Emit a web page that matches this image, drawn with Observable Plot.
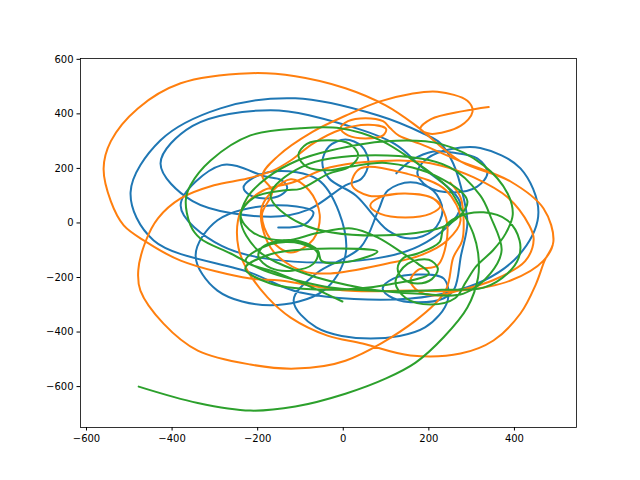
<!DOCTYPE html>
<html><head><meta charset="utf-8">
<script src="https://cdn.jsdelivr.net/npm/d3@7"></script>
<script src="https://cdn.jsdelivr.net/npm/@observablehq/plot@0.6"></script>
<style>html,body{margin:0;padding:0;background:#fff;}</style>
</head><body><div id="chart"></div>
<script>
const xTicks = [-600,-400,-200,0,200,400];
const yTicks = [-600,-400,-200,0,200,400,600];

const blue = [[124,182],[160,230],[210,262],
[255,258],[313,237],[337,185],[313,133],[255,112],[197,133],[173,185],[197,237],[250,270],
[320,275],[414,200],[456,40],[420,-100],[330,-210],[157,-277],[-100,-255],[-217,-182],[-443,-64],[-497,112],[-427,303],[-287,420],[-112,457],[82,394],[187,328],[227,292],[257,218],[281,93],[290,-2],[275,-120],
[260,-240],[235,-276],[176,-291],[117,-276],[92,-240],[117,-204],[176,-189],[235,-204],
[244,-284],[191,-383],[64,-424],[-63,-383],[-116,-284],[-63,-185],
[40,-90],[82,46],[104,119],[157,149],[210,119],[232,46],[210,-27],[157,-57],[104,-27],
[30,100],[-33,163],[-49,222],[-33,281],[5,306],[43,281],[59,222],[43,163],[5,138],
[-80,50],[-170,23],[-352,80],[-427,218],[-352,356],[-170,413],[12,356],
[120,290],[178,212],[274,64],[178,-84],[-53,-145],[-284,-84],[-380,64],[-284,212],
[-182,170],[-146,158],[-131,130],[-146,102],[-182,90],[-218,102],[-233,130],[-218,158],[-160,190],[-60,160],[-10,40],
[5,-119],[-46,-248],[-170,-302],[-294,-248],[-345,-119],[-294,10],[-170,64],[-70,40],[-90,-5],[-152,-17]];

const orange = [[340,425],[280,410],[205,381],[180,345],[203,327],[274,356],[302,407],[290,448],[220,481],[157,473],[82,444],[5,393],[-72,334],[-152,246],[-189,173],[-166,116],
[-190,30],[-170,-60],[-123,-108],[-70,-60],[-55,30],[-80,120],[-123,160],
[-190,60],[-170,-90],[-100,-174],[-30,-185],[103,-149],[180,-119],[243,-64],[274,9],[240,120],[150,180],[40,200],[20,140],[60,100],
[145,108],[203,95],[227,64],[203,33],[145,20],[87,33],[63,64],[87,95],[145,108],[210,90],[240,20],[240,-80],[220,-156],
[175,-172],[157,-211],[175,-250],[220,-266],[265,-250],[350,-210],[425,-140],[445,-60],[435,-10],
[384,94],[305,167],[227,211],[133,229],[-30,204],[-117,149],[-187,119],[-234,57],[-246,9],[-245,-90],[-224,-174],[-177,-273],[-123,-347],[-37,-413],[45,-442],[157,-486],[274,-479],[351,-431],[414,-332],[450,-225],
[470,-140],[491,-68],[468,53],[391,152],[274,226],[169,358],[99,431],[5,494],[-112,538],[-217,549],[-380,512],[-480,420],[-543,300],[-560,200],[-543,79],[-513,-9],[-462,-68],[-380,-138],[-217,-204],[-147,-211],[5,-248],[157,-248],[274,-248],[391,-211],[468,-138],[491,-68],[468,53],[391,152],[274,226],[180,290],[130,320],
[110,347],[93,373],[52,384],[11,373],[-6,347],[11,321],[52,310],[93,321],[100,345],[60,360],[-10,340],
[-70,292],[-123,229],[-163,193],[-224,163],[-302,138],[-380,90],[-433,17],[-462,-68],[-479,-174],[-474,-248],[-420,-369],[-340,-468],[-217,-519],[-112,-534],[5,-505],[169,-358],[239,-248],[257,-127],[278,-64],[281,20],[274,94],[250,148]];

const green = [[-478,-600],[-340,-660],[-217,-688],[-112,-673],[5,-626],[100,-570],[169,-512],[234,-420],[290,-310],[315,-200],[315,-110],[304,-40],[281,35],[250,119],[227,155],
[180,211],[87,303],[-7,347],[-100,347],[-217,321],[-310,229],[-357,138],[-368,83],[-357,-9],[-334,-57],[-263,-112],[-186,-174],[-107,-211],[-30,-237],[100,-250],[230,-245],
[328,-237],[384,-185],[410,-127],[412,-64],[384,9],[328,39],[265,20],[234,-20],[225,-70],
[174,-112],[141,-128],[127,-167],[141,-206],[174,-222],[207,-206],[221,-167],[200,-135],[150,-150],[122,-218],[146,-275],[204,-299],[262,-275],[286,-218],[310,-160],[350,-100],
[379,-40],[396,30],[384,108],[328,211],[227,290],[100,300],[-30,266],[-107,229],[-177,167],[-224,94],[-240,9],[-200,-100],[-100,-180],[50,-240],[180,-260],[281,-259],[344,-185],[370,-100],
[345,20],[320,101],[248,205],[75,248],[-98,205],[-170,101],[-98,-3],[75,-46],[248,-3],[290,80],[220,170],
[100,220],[15,206],[-35,193],[-85,206],[-105,248],[-85,290],[-35,303],[15,290],[35,248],[15,206],[-35,180],[-100,125],
[-135,120],[-209,93],[-240,28],[-209,-37],[-135,-64],[-61,-37],[20,-20],
[80,-53],[140,-112],[174,-149],
[200,-185],[110,-225],[-30,-245],[-170,-222],[-229,-167],[-170,-115],[-30,-94],[80,-105],
[20,-140],[-50,-140],[-60,-100],[-100,-68],[-150,-66],[-190,-90],[-198,-125],[-170,-165],[-120,-175],[-70,-150],[-60,-110],[-100,-75],[-170,-78],[-228,-138],[-151,-185],[-72,-237],[-2,-288]];

const series = [
  {name:"blue", color:"#1f77b4", pts:blue},
  {name:"orange", color:"#ff7f0e", pts:orange},
  {name:"green", color:"#2ca02c", pts:green}
];

const lineMarks = series.map(s => Plot.line(s.pts, {x: d => d[0], y: d => d[1], stroke: s.color, strokeWidth: 2, curve: "catmull-rom", clip: true}));

const chart = Plot.plot({
  width: 640, height: 480,
  marginLeft: 80, marginRight: 64, marginTop: 58, marginBottom: 53,
  style: {fontFamily: "DejaVu Sans", fontSize: "10px", color: "black", background: "white"},
  x: {domain: [-614, 545]},
  y: {domain: [-750, 603]},
  marks: [
    ...lineMarks,
    Plot.frame({stroke: "black", strokeWidth: 0.8}),
    Plot.axisX({ticks: xTicks, tickSize: 3.5, tickPadding: 3.5, label: null, fontSize: 10}),
    Plot.axisY({ticks: yTicks, tickSize: 3.5, tickPadding: 3.5, label: null, fontSize: 10})
  ]
});
document.getElementById("chart").appendChild(chart);
</script>
</body></html>
